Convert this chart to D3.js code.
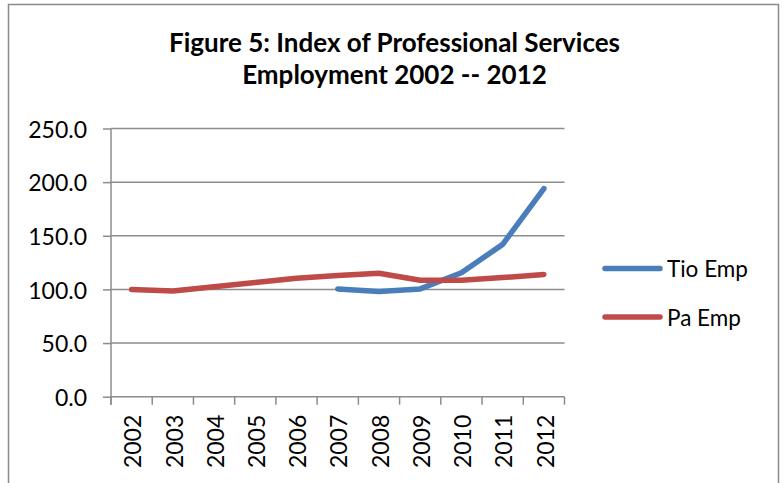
<!DOCTYPE html>
<html>
<head>
<meta charset="utf-8">
<script src="https://cdn.jsdelivr.net/npm/d3@7"></script>
<style>
  html, body { margin: 0; padding: 0; background: #fff; }
  svg { display: block; }
  text { font-family: Lato, "Open Sans", sans-serif; fill: #000; }
</style>
</head>
<body>
<svg id="chart" width="784" height="483"></svg>
<script>
// Index of professional services employment, 2002–2012
const years = ["2002", "2003", "2004", "2005", "2006", "2007", "2008", "2009", "2010", "2011", "2012"];
const tioEmp = [null, null, null, null, null, 100.5, 98, 100.5, 115.5, 142, 194];
const paEmp = [100, 98.5, 102.5, 106.5, 110.5, 113, 115, 108.5, 108.5, 111, 114];
const yTicks = [0, 50, 100, 150, 200, 250];
const titleLines = ["Figure 5: Index of Professional Services", "Employment 2002 -- 2012"];
const seriesNames = ["Tio Emp", "Pa Emp"];
const seriesColors = ["#4a7ebb", "#be4b48"];

const svg = d3.select("#chart");
const W = 784, H = 483;
const plot = { left: 111, right: 564.5, top: 128.5, bottom: 396.7 };

// Outer chart frame
svg.append("rect")
  .attr("x", 8.5).attr("y", 4.5)
  .attr("width", 770).attr("height", H)
  .attr("fill", "#fff")
  .attr("stroke", "#8a8a8a").attr("stroke-width", 1.5);

// Title
const title = svg.append("text")
  .attr("text-anchor", "middle")
  .style("font-weight", "bold")
  .style("font-size", "26px");
title.selectAll("tspan").data(titleLines).join("tspan")
  .attr("x", 394.5)
  .attr("y", (d, i) => 52 + i * 32)
  .text(d => d);

const x = d3.scaleBand().domain(years).range([plot.left, plot.right]).paddingInner(0).paddingOuter(0);
const y = d3.scaleLinear().domain([0, 250]).range([plot.bottom, plot.top]);

// Horizontal gridlines
svg.append("g")
  .selectAll("line").data(yTicks.filter(d => d > 0)).join("line")
  .attr("x1", plot.left).attr("x2", plot.right)
  .attr("y1", d => y(d)).attr("y2", d => y(d))
  .attr("stroke", "#8c8c8c").attr("stroke-width", 1.5);

// Y axis
const yAxis = svg.append("g")
  .attr("transform", `translate(${plot.left},0)`)
  .call(d3.axisLeft(y).tickValues(yTicks).tickFormat(d3.format(".1f")).tickSize(8).tickPadding(16));
yAxis.select(".domain").attr("stroke", "#8c8c8c").attr("stroke-width", 1.5)
  .attr("d", `M0,${plot.top}V${plot.bottom + 8}`);
yAxis.selectAll(".tick line").attr("stroke", "#8c8c8c").attr("stroke-width", 1.5);
yAxis.selectAll(".tick text")
  .style("font-size", "23px").style("font-family", "Lato, sans-serif")
  .attr("fill", "#000").attr("dy", "0.38em");

// X axis with ticks at band boundaries
const xAxisG = svg.append("g").attr("transform", `translate(0,${plot.bottom})`);
xAxisG.append("line")
  .attr("x1", plot.left).attr("x2", plot.right)
  .attr("stroke", "#8c8c8c").attr("stroke-width", 1.5);
const boundaries = years.map(d => x(d)).concat([x(years[years.length - 1]) + x.bandwidth()]);
xAxisG.selectAll("line.tk").data(boundaries).join("line")
  .attr("class", "tk")
  .attr("x1", d => d).attr("x2", d => d)
  .attr("y1", 0).attr("y2", 8)
  .attr("stroke", "#8c8c8c").attr("stroke-width", 1.5);
xAxisG.selectAll("text").data(years).join("text")
  .attr("transform", d => `translate(${x(d) + x.bandwidth() / 2},18) rotate(-90)`)
  .attr("text-anchor", "end")
  .attr("dy", "0.42em")
  .style("font-size", "23px")
  .text(d => d);

// Series lines
const line = d3.line()
  .defined(d => d.v != null)
  .x(d => x(d.year) + x.bandwidth() / 2)
  .y(d => y(d.v));

[tioEmp, paEmp].forEach((vals, i) => {
  svg.append("path")
    .datum(years.map((yr, j) => ({ year: yr, v: vals[j] })))
    .attr("fill", "none")
    .attr("stroke", seriesColors[i])
    .attr("stroke-width", 5.5)
    .attr("stroke-linecap", "round")
    .attr("stroke-linejoin", "round")
    .attr("d", line);
});

// Legend
const legend = svg.append("g");
seriesNames.forEach((name, i) => {
  const ly = 268.5 + i * 48.5;
  legend.append("line")
    .attr("x1", 605).attr("x2", 660)
    .attr("y1", ly).attr("y2", ly)
    .attr("stroke", seriesColors[i]).attr("stroke-width", 5.5)
    .attr("stroke-linecap", "round");
  legend.append("text")
    .attr("x", 667).attr("y", ly + 8.5)
    .style("font-size", "22.5px")
    .text(name);
});
</script>
</body>
</html>
